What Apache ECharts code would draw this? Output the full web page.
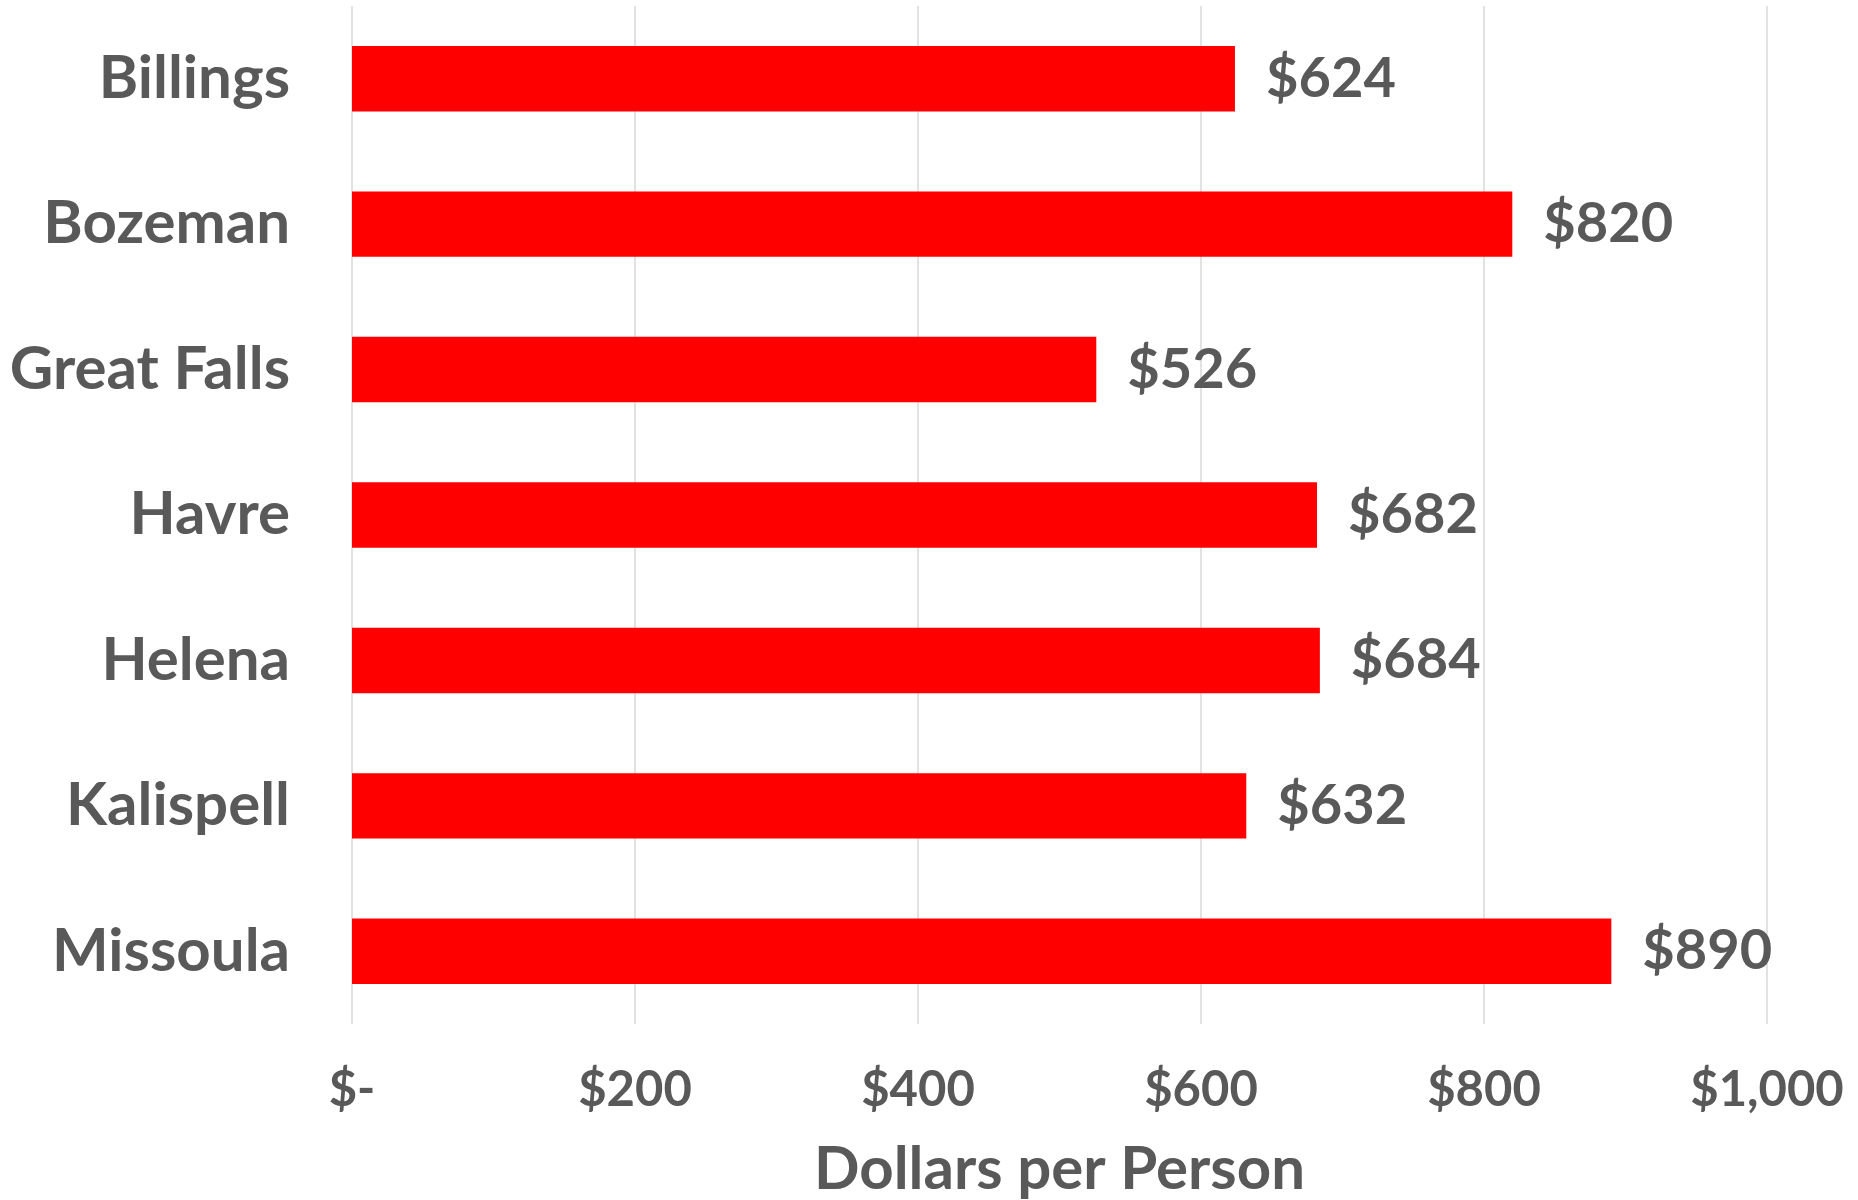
<!DOCTYPE html>
<html>
<head>
<meta charset="utf-8">
<script src="https://cdn.jsdelivr.net/npm/echarts@6/dist/echarts.min.js"></script>
<style>
  html, body { margin: 0; padding: 0; background: #fff; }
  #chart { width: 1858px; height: 1200px; }
</style>
</head>
<body>
<div id="chart"></div>
<script>
// data
var cities = ['Billings', 'Bozeman', 'Great Falls', 'Havre', 'Helena', 'Kalispell', 'Missoula'];
var dollars = [624, 820, 526, 682, 684, 632, 890];
var xTicks = [0, 200, 400, 600, 800, 1000];

var textColor = '#595959';
var font = 'Lato';

function money(v) {
    if (v === 0) return '$-';
    return '$' + v.toLocaleString('en-US');
}

var myChart = echarts.init(document.getElementById('chart'));

var option = {
    backgroundColor: '#ffffff',
    animation: false,
    grid: {
        left: 352,
        right: 91,
        top: 6,
        height: 1018,
        outerBoundsMode: 'none',
        containLabel: false
    },
    xAxis: {
        type: 'value',
        min: xTicks[0],
        max: xTicks[xTicks.length - 1],
        interval: 200,
        axisLine: { show: false },
        axisTick: { show: false },
        splitLine: { show: true, lineStyle: { color: '#d9d9d9', width: 1.5 } },
        axisLabel: {
            margin: 42,
            color: textColor,
            fontFamily: font,
            fontWeight: 'bold',
            fontSize: 49,
            formatter: money
        },
        name: 'Dollars per Person',
        nameLocation: 'middle',
        nameGap: 116,
        nameTextStyle: {
            color: textColor,
            fontFamily: font,
            fontWeight: 'bold',
            fontSize: 60
        }
    },
    yAxis: {
        type: 'category',
        inverse: true,
        data: cities,
        axisLine: { show: false },
        axisTick: { show: false },
        axisLabel: {
            margin: 62,
            color: textColor,
            fontFamily: font,
            fontWeight: 'bold',
            fontSize: 60
        }
    },
    series: [{
        type: 'bar',
        data: dollars,
        barCategoryGap: '55%',
        itemStyle: { color: '#ff0000' },
        label: {
            show: true,
            position: 'right',
            distance: 31,
            color: textColor,
            fontFamily: font,
            fontWeight: 'bold',
            fontSize: 56,
            formatter: function (p) { return money(p.value); }
        }
    }]
};

myChart.setOption(option);
</script>
</body>
</html>
